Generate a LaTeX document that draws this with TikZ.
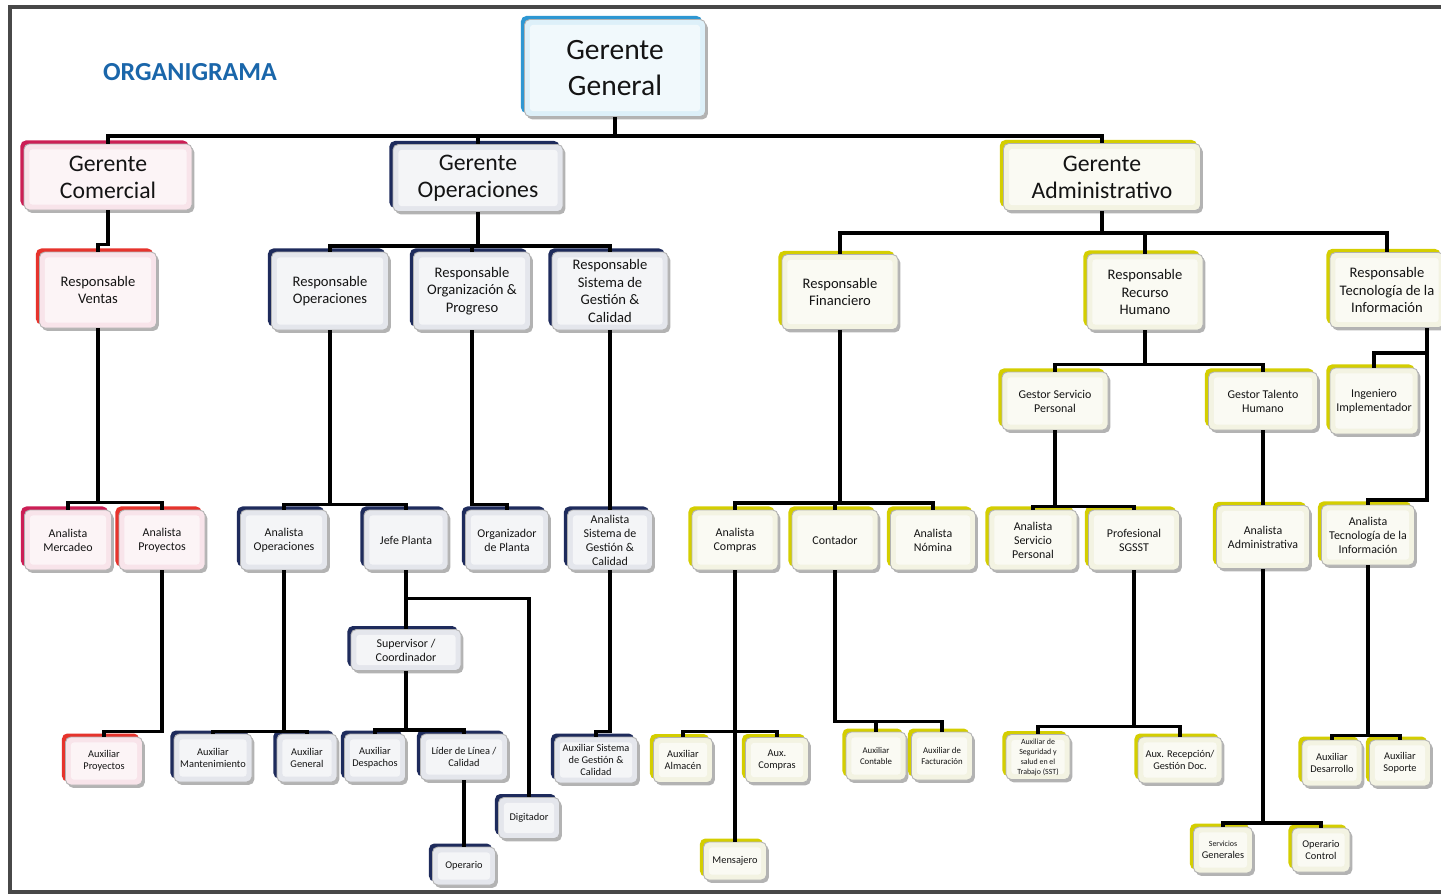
\documentclass[tikz,border=0pt]{standalone}
\usepackage{fontspec}
\setmainfont{Carlito}
\usetikzlibrary{shadows}
\definecolor{genblue}{HTML}{2E97D2}
\definecolor{genfill}{HTML}{DDF0F9}
\definecolor{comred}{HTML}{CC1E55}
\definecolor{comlite}{HTML}{E6332C}
\definecolor{comfill}{HTML}{F8E4EA}
\definecolor{opnavy}{HTML}{1E2B5C}
\definecolor{opfill}{HTML}{E4E6EC}
\definecolor{admyel}{HTML}{D4CE00}
\definecolor{admfill}{HTML}{F3F3E2}
\definecolor{frame}{HTML}{484848}
\definecolor{titblue}{HTML}{1A66AA}

\begin{document}
\begin{tikzpicture}[x=0.02cm, y=-0.02cm,
	wh/.style 2 args={minimum width=#1*0.02cm, minimum height=#2*0.02cm},
	cargo/.style={rounded corners=3pt, draw=black!30, line width=0.5pt, align=center, inner sep=0pt, text=black!92,
		drop shadow={shadow xshift=1.3pt, shadow yshift=-1.6pt, fill=black!50, opacity=.6},
		path picture={\fill[white, opacity=.6, rounded corners=2pt]
			([shift={(3pt,3pt)}]path picture bounding box.south west) rectangle
			([shift={(-3pt,-3pt)}]path picture bounding box.north east);}},
	gen/.style={cargo, fill=genfill, general shadow={fill=genblue, shadow xshift=-2pt, shadow yshift=2pt}},
	com/.style={cargo, fill=comfill, general shadow={fill=#1, shadow xshift=-2pt, shadow yshift=2pt}},
	com/.default=comlite,
	ope/.style={cargo, fill=opfill, general shadow={fill=opnavy, shadow xshift=-2pt, shadow yshift=2pt}},
	adm/.style={cargo, fill=admfill, general shadow={fill=admyel, shadow xshift=-2pt, shadow yshift=2pt}},
	tbig/.style={font=\fontsize{16.8}{20.4}\selectfont},
	tmid/.style={font=\fontsize{13.5}{15.5}\selectfont},
	tres/.style={font=\fontsize{8.3}{9.9}\selectfont},
	tana/.style={font=\fontsize{6.8}{8}\selectfont},
	taux/.style={font=\fontsize{5.9}{7}\selectfont},
	ttny/.style={font=\fontsize{5}{6.2}\selectfont},
	tmic/.style={font=\fontsize{4.5}{5.7}\selectfont},
	link/.style={line width=1.8pt}]
		%%%%% START %%%%%
		\useasboundingbox (0,0) rectangle (1441,894);
		\draw[line width=2.3pt, color=frame] (1441,7) -- (10,7) -- (10,892) -- (1441,892);
		
		\node[text=titblue, font=\fontsize{14.8}{16}\selectfont\bfseries] (tit) at (190,72) {ORGANIGRAMA};
		
		\node[gen, tbig, wh={181}{97}] (gg) at (615,68) {Gerente\\General};
		
		\node[com=comred, tmid, wh={168}{66}] (gc) at (108,177) {Gerente\\Comercial};
		\node[ope, tmid, wh={170}{67}] (go) at (478,178) {Gerente\\Operaciones};
		\node[adm, tmid, wh={197}{67}] (ga) at (1102,177) {Gerente\\Administrativo};
		
		\node[com, tres, wh={117}{76}] (rv) at (98,290) {Responsable\\Ventas};
		\node[ope, tres, wh={117}{78}] (ro) at (330,291) {Responsable\\Operaciones};
		\node[ope, tres, wh={117}{78}] (rop) at (472,291) {Responsable\\Organización \&\\Progreso};
		\node[ope, tres, wh={116}{78}] (rsgc) at (610,291) {Responsable\\Sistema de\\Gestión \&\\Calidad};
		\node[adm, tres, wh={116}{75}] (rf) at (840,292) {Responsable\\Financiero};
		\node[adm, tres, wh={116}{76}] (rrh) at (1145,292) {Responsable\\Recurso\\Humano};
		\node[adm, tres, wh={114}{75}] (rti) at (1387,290) {Responsable\\Tecnología de la\\Información};
		
		\node[adm, tana, wh={106}{58}] (gsp) at (1055,401) {Gestor Servicio\\Personal};
		\node[adm, tana, wh={109}{58}] (gth) at (1263,401) {Gestor Talento\\Humano};
		\node[adm, tana, wh={88}{66}] (ing) at (1374,401) {Ingeniero\\Implementador};
		
		\node[com=comred, tana, wh={87}{60}] (am) at (68,540) {Analista\\Mercadeo};
		\node[com, tana, wh={86}{60}] (ap) at (162,540) {Analista\\Proyectos};
		\node[ope, tana, wh={87}{60}] (anop) at (284,540) {Analista\\Operaciones};
		\node[ope, tana, wh={84}{60}] (jp) at (406,540) {Jefe Planta};
		\node[ope, tana, wh={83}{60}] (org) at (507,540) {Organizador\\de Planta};
		\node[ope, tana, wh={85}{60}] (asgc) at (610,540) {Analista\\Sistema de\\Gestión \&\\Calidad};
		\node[adm, tana, wh={86}{60}] (ac) at (735,540) {Analista\\Compras};
		\node[adm, tana, wh={86}{60}] (cont) at (835,540) {Contador};
		\node[adm, tana, wh={85}{60}] (anom) at (933,540) {Analista\\Nómina};
		\node[adm, tana, wh={88}{60}] (asp) at (1033,540) {Analista\\Servicio\\Personal};
		\node[adm, tana, wh={91}{60}] (psg) at (1134,540) {Profesional\\SGSST};
		\node[adm, tana, wh={93}{63}] (aadm) at (1263,537) {Analista\\Administrativa};
		\node[adm, tana, wh={93}{60}] (ati) at (1368,535) {Analista\\Tecnología de la\\Información};
		
		\node[ope, tana, wh={110}{41}] (sup) at (406,650) {Supervisor /\\Coordinador};
		
		\node[com, taux, wh={77}{48}] (axp) at (104,761) {Auxiliar\\Proyectos};
		\node[ope, taux, wh={78}{48}] (mant) at (213,758) {Auxiliar\\Mantenimiento};
		\node[ope, taux, wh={60}{48}] (agen) at (307,758) {Auxiliar\\General};
		\node[ope, taux, wh={61}{48}] (desp) at (375,758) {Auxiliar\\Despachos};
		\node[ope, taux, wh={87}{46}] (lid) at (464,757) {Líder de Línea /\\Calidad};
		\node[ope, taux, wh={61}{41}] (dig) at (529,818) {Digitador};
		\node[ope, taux, wh={63}{38}] (oper) at (464,866) {Operario};
		\node[ope, taux, wh={83}{46}] (axsgc) at (596,760) {Auxiliar Sistema\\de Gestión \&\\Calidad};
		\node[adm, taux, wh={59}{45}] (alm) at (683,760) {Auxiliar\\Almacén};
		\node[adm, taux, wh={63}{45}] (axc) at (777,760) {Aux.\\Compras};
		\node[adm, taux, wh={63}{38}] (men) at (735,861) {Mensajero};
		\node[adm, ttny, wh={60}{48}] (acont) at (876,756) {Auxiliar\\Contable};
		\node[adm, ttny, wh={61}{48}] (afac) at (942,756) {Auxiliar de\\Facturación};
		\node[adm, tmic, wh={64}{45}] (sst) at (1038,757) {Auxiliar de\\Seguridad y\\salud en el\\Trabajo (SST)};
		\node[adm, taux, wh={84}{46}] (arec) at (1180,760) {Aux. Recepción/\\Gestión Doc.};
		\node[adm, taux, wh={60}{46}] (ades) at (1332,763) {Auxiliar\\Desarrollo};
		\node[adm, taux, wh={61}{46}] (asop) at (1400,763) {Auxiliar\\Soporte};
		\node[adm, taux, wh={59}{46}] (serv) at (1223,850) {{\fontsize{4.5}{5.5}\selectfont Servicios}\\Generales};
		\node[adm, taux, wh={58}{44}] (opc) at (1321,850) {Operario\\Control};
		
		\draw[link] (gg.south) -- ++(0,19) coordinate (bgg);
		\draw[link] (gc.north) |- (bgg) -| (ga.north);
		\draw[link] (bgg) -| (go.north);
		
		\draw[link] (gc.south) -- ++(0,34) -| (rv.north);
		\draw[link] (rv.south) -- ++(0,174) coordinate (brv) -| (am.north);
		\draw[link] (brv) -| (ap.north);
		\draw[link] (ap.south) -- ++(0,161) -| (axp.north);
		
		\draw[link] (go.south) -- ++(0,34) coordinate (bgo) -| (ro.north);
		\draw[link] (bgo) -| (rop.north);
		\draw[link] (bgo) -| (rsgc.north);
		\draw[link] (ro.south) -- ++(0,174) coordinate (bro) -| (anop.north);
		\draw[link] (bro) -| (jp.north);
		\draw[link] (rop.south) -- ++(0,174) -| (org.north);
		\draw[link] (rsgc.south) -- (asgc.north);
		\draw[link] (anop.south) -- ++(0,161) coordinate (bao) -| (mant.north);
		\draw[link] (bao) -| (agen.north);
		\draw[link] (jp.south) -- ++(0,28) coordinate (bjp) -| (dig.north);
		\draw[link] (bjp) -- (sup.north);
		\draw[link] (sup.south) -- ++(0,59) coordinate (bsu) -| (desp.north);
		\draw[link] (bsu) -| (lid.north);
		\draw[link] (lid.south) -- (oper.north);
		\draw[link] (asgc.south) -- ++(0,161) -| (axsgc.north);
		
		\draw[link] (ga.south) -- ++(0,22) coordinate (bga) -| (rf.north);
		\draw[link] (bga) -| (rrh.north);
		\draw[link] (bga) -| (rti.north);
		\draw[link] (rf.south) -- ++(0,173) coordinate (brf) -| (ac.north);
		\draw[link] (brf) -| (cont.north);
		\draw[link] (brf) -| (anom.north);
		\draw[link] (ac.south) -- ++(0,161) coordinate (bac) -| (alm.north);
		\draw[link] (bac) -| (axc.north);
		\draw[link] (bac) -- (men.north);
		\draw[link] (cont.south) -- ++(0,151) coordinate (bct) -| (acont.north);
		\draw[link] (bct) -| (afac.north);
		
		\draw[link] (rrh.south) -- ++(0,34) coordinate (brh) -| (gsp.north);
		\draw[link] (brh) -| (gth.north);
		\draw[link] (gsp.south) -- ++(0,76) coordinate (bgs) -| (asp.north);
		\draw[link] (bgs) -| (psg.north);
		\draw[link] (psg.south) -- ++(0,156) coordinate (bps) -| (sst.north);
		\draw[link] (bps) -| (arec.north);
		\draw[link] (gth.south) -- (aadm.north);
		\draw[link] (aadm.south) -- ++(0,254) coordinate (bad) -| (serv.north);
		\draw[link] (bad) -| (opc.north);
		
		\draw[link] (rti.south) ++(40,0) -- ++(0,25) coordinate (brt) -| (ing.north);
		\draw[link] (brt) -- ++(0,147) -| (ati.north);
		\draw[link] (ati.south) -- ++(0,170) coordinate (bat) -| (ades.north);
		\draw[link] (bat) -| (asop.north);
		
		%%%%% END %%%%%
\end{tikzpicture}
\end{document}
